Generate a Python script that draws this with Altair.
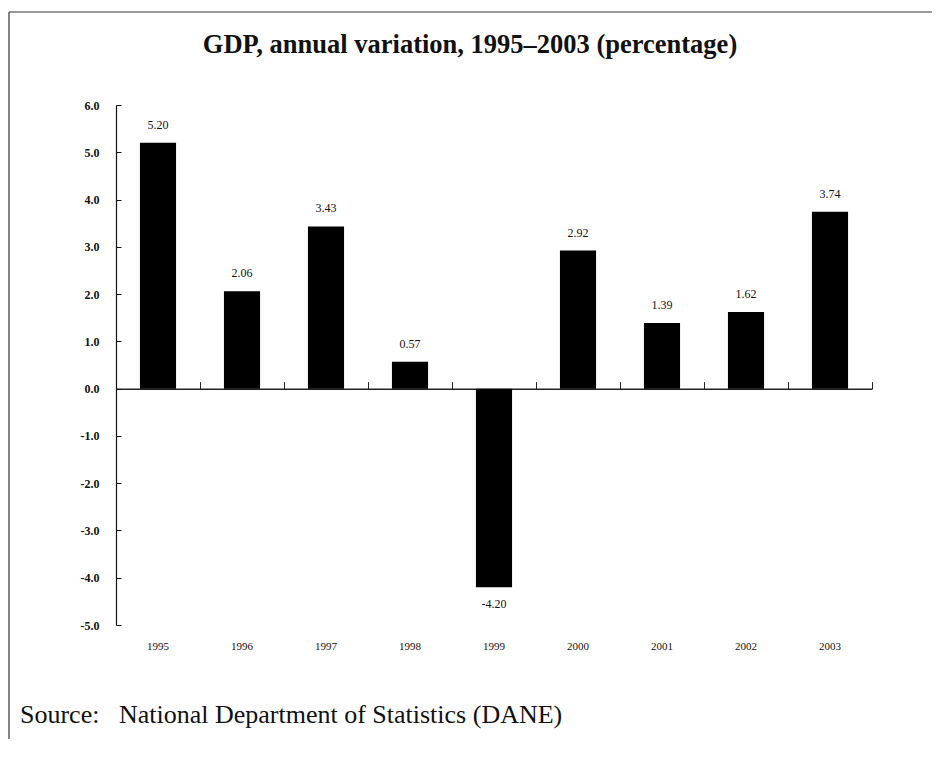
import altair as alt
import pandas as pd

# ---- data ----
years = ["1995", "1996", "1997", "1998", "1999", "2000", "2001", "2002", "2003"]
values = [5.20, 2.06, 3.43, 0.57, -4.20, 2.92, 1.39, 1.62, 3.74]
y_ticks = [-5, -4, -3, -2, -1, 0, 1, 2, 3, 4, 5, 6]
title_text = "GDP, annual variation, 1995\u20132003 (percentage)"
source_text = "Source:\u00a0\u00a0\u00a0National Department of Statistics (DANE)"

df = pd.DataFrame({
    "year": years,
    "value": values,
    "label": [f"{v:.2f}" for v in values],
})

W, H = 756, 520
STEP = W / len(years)
SERIF = "Liberation Serif"
INK = "#111111"

xscale = alt.Scale(paddingInner=0.57, paddingOuter=0.285)
yscale = alt.Scale(domain=[-5, 6], nice=False, zero=False)

# left axis: line + labels
y_axis = alt.Axis(
    values=y_ticks,
    labelExpr="datum.value < 0 ? '-' + format(-datum.value, '.1f') : format(datum.value, '.1f')",
    grid=False, domainColor=INK, domainWidth=1.2, ticks=False,
    labelPadding=17, labelFont=SERIF, labelFontSize=12, labelFontWeight="bold",
    labelColor=INK,
)
y_enc = alt.Y("value:Q", scale=yscale, axis=y_axis, title=None)
y_noaxis = alt.Y("value:Q", scale=yscale, axis=None)
x_noaxis = alt.X("year:N", scale=xscale, axis=None)

bars = alt.Chart(df).mark_bar(color="#000000").encode(
    x=alt.X("year:N", scale=xscale, title=None,
            axis=alt.Axis(orient="bottom", domain=False, ticks=False, labelAngle=0,
                          labelPadding=15, labelFont=SERIF, labelFontSize=11,
                          labelColor=INK)),
    y=y_enc,
)

pos_labels = alt.Chart(df).transform_filter("datum.value >= 0").mark_text(
    font=SERIF, fontSize=12, color=INK, baseline="middle", dy=-18
).encode(x=x_noaxis, y=y_noaxis, text="label:N")

neg_labels = alt.Chart(df).transform_filter("datum.value < 0").mark_text(
    font=SERIF, fontSize=12, color=INK, baseline="middle", dy=17
).encode(x=x_noaxis, y=y_noaxis, text="label:N")

# helper guides: baseline along zero with ticks between categories,
# and inward-pointing ticks on the value axis
guides = alt.Chart(df).mark_point(opacity=0).encode(
    x=alt.X("year:N", scale=xscale, title=None,
            axis=alt.Axis(orient="top", offset=-(6 * H / 11), labels=False,
                          domainColor="#222222", domainWidth=1.5,
                          tickColor="#222222", tickSize=7, tickOffset=STEP / 2)),
    y=alt.Y("value:Q", scale=yscale, title=None,
            axis=alt.Axis(orient="right", offset=-W, labels=False, domain=False,
                          grid=False, values=y_ticks, tickColor=INK, tickSize=5)),
)

one = pd.DataFrame({"a": [0]})
frame_left = alt.Chart(one).mark_rule(color="#333333", strokeWidth=1.2).encode(
    x=alt.value(-107), y=alt.value(-93), y2=alt.value(H + 114))
frame_top = alt.Chart(one).mark_rule(color="#333333", strokeWidth=1.2).encode(
    x=alt.value(-107), x2=alt.value(W + 60), y=alt.value(-93))

title = alt.Chart(pd.DataFrame({"t": [title_text]})).mark_text(
    font=SERIF, fontSize=26.5, fontWeight="bold", align="center", baseline="alphabetic",
    color=INK).encode(x=alt.value(354), y=alt.value(-52), text="t:N")

source = alt.Chart(pd.DataFrame({"t": [source_text]})).mark_text(
    font=SERIF, fontSize=26, align="left", baseline="middle",
    color=INK).encode(x=alt.value(-96), y=alt.value(610), text="t:N")

chart = alt.layer(
    frame_left, frame_top, guides, bars, pos_labels, neg_labels, title, source
).properties(
    width=W, height=H,
    padding={"left": 108, "top": 97, "right": 60, "bottom": 115},
    autosize=alt.AutoSizeParams(type="none"),
).resolve_axis(x="independent", y="independent").configure_view(stroke=None)

chart.save("out.html", embed_options={"renderer": "svg", "actions": False})
